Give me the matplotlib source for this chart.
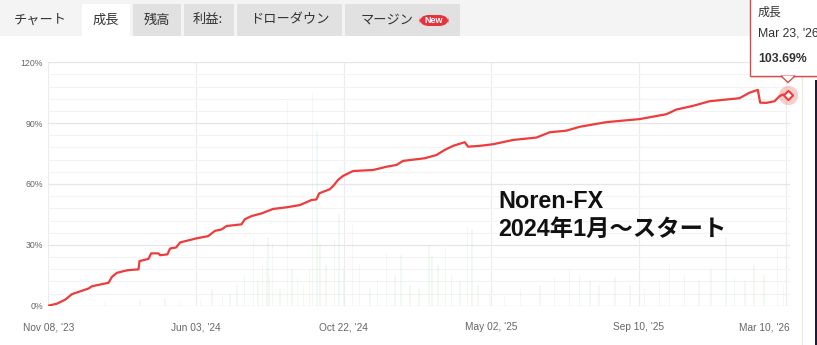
import matplotlib
matplotlib.use("Agg")
import matplotlib.pyplot as plt
import matplotlib.transforms as mtrans
from matplotlib.patches import Rectangle, FancyBboxPatch, Polygon
from matplotlib.ticker import MultipleLocator, FuncFormatter

plt.rcParams['font.family'] = ['Liberation Sans', 'Noto Sans CJK JP', 'DejaVu Sans']

# ---------------- data ----------------
tick_pos = [0, 100, 200, 300, 400, 500]
tick_labels = ["Nov 08, '23", "Jun 03, '24", "Oct 22, '24", "May 02, '25", "Sep 10, '25", "Mar 10, '26"]

growth_x = [0, 5.9, 11.5, 16.0, 20.5, 27.3, 29.6, 40.8, 43.1, 46.5, 53.6, 61.1, 61.8, 67.9, 69.7,
            74.6, 75.8, 80.7, 82.5, 86.6, 89.3, 93.8, 100.4, 108.3, 112.9, 117.4, 120.8, 130.9,
            133.1, 137.7, 144.5, 152.3, 161.4, 170.4, 178.3, 181.7, 183.5, 190.7, 193.0, 196.3,
            199.7, 206.5, 220.0, 229.1, 235.9, 240.4, 255.1, 263.0, 268.6, 274.2, 282.1, 284.4,
            292.3, 301.3, 314.8, 330.7, 339.7, 351.0, 360.0, 378.1, 400.6, 418.7, 425.5, 436.7,
            448.0, 468.3, 475.0, 480.7, 482.3, 486.4, 492.0, 495.4, 497.6, 501.0]
growth_y = [0, 1.0, 3.0, 5.7, 6.8, 8.5, 9.6, 11.3, 14.2, 16.2, 17.5, 17.9, 22.0, 23.1, 25.8,
            25.8, 24.9, 25.3, 28.2, 28.7, 31.2, 32.0, 33.2, 34.3, 36.9, 37.6, 39.3, 40.1,
            42.6, 44.2, 45.5, 47.7, 48.5, 49.6, 52.1, 52.4, 55.4, 57.4, 59.0, 62.0,
            64.0, 66.4, 66.9, 68.5, 69.4, 71.4, 72.7, 74.3, 76.8, 78.8, 80.6, 78.4,
            78.8, 79.6, 81.7, 82.9, 85.5, 86.3, 88.2, 90.5, 92.0, 94.4, 96.7, 98.5,
            100.8, 102.3, 105.0, 106.4, 100.1, 100.0, 100.8, 103.3, 104.1, 103.69]

bar_x = [38, 62, 79, 89, 103, 111, 118, 123, 128, 133, 139, 142, 145, 148, 149, 150, 152, 157,
         162, 165, 169, 173, 177, 179, 182, 184, 188, 194, 197, 200, 206, 211, 218, 223, 229,
         235, 239, 245, 251, 258, 260, 264, 269, 273, 279, 284, 287, 291, 299, 309, 320, 333,
         343, 353, 360, 367, 373, 384, 394, 404, 414, 421, 431, 441, 449, 459, 465, 472, 478,
         485, 494, 498]
bar_h = [2, 3, 4, 3, 3, 8, 5, 6, 10, 15, 35, 12, 20, 22, 34, 14, 31, 8,
         101, 18, 14, 10, 18, 105, 86, 30, 20, 33, 45, 18, 40, 20, 8, 12, 26,
         15, 25, 10, 8, 30, 25, 20, 29, 15, 12, 40, 38, 10, 6, 5, 8, 10,
         14, 18, 15, 12, 10, 14, 10, 8, 12, 20, 15, 12, 18, 34, 14, 12, 20,
         15, 28, 10]

tabs = ["チャート", "成長", "残高", "利益:", "ドローダウン", "マージン"]
tooltip_title = "成長"
tooltip_date = "Mar 23, '26"
tooltip_value = "103.69%"
note_line1 = "Noren-FX"
note_line2 = "2024年1月～スタート"

# ---------------- figure ----------------
W, H = 817, 345
fig = plt.figure(figsize=(W / 100, H / 100), dpi=100)
fig.patch.set_facecolor('white')


def P(x, y):
    return (x / W, 1 - y / H)


def frect(x0, y0, x1, y1, **kw):
    r = Rectangle(P(x0, y1), (x1 - x0) / W, (y1 - y0) / H, transform=fig.transFigure, **kw)
    fig.patches.append(r)
    return r


# tab strip
frect(0, 0, W, 36, facecolor='#f4f4f4', edgecolor='none', zorder=0)
tab_boxes = [(None, 40), ((82, 130), 106), ((133, 181), 157), ((184, 234), 208),
             ((237, 342), 290), ((345, 460), 387)]
for i, (box, cx) in enumerate(tab_boxes):
    if box is not None:
        fc = 'white' if i == 1 else '#e1e1e1'
        frect(box[0], 4, box[1], 36, facecolor=fc, edgecolor='none', zorder=1)
    fig.text(*P(cx, 20), tabs[i], ha='center', va='center', fontsize=9.5,
             color='#333333', family=['Noto Sans CJK JP', 'DejaVu Sans'], zorder=3)
badge = FancyBboxPatch(P(419, 26), 30 / W, 11 / H, boxstyle="round,pad=0,rounding_size=0.012",
                       transform=fig.transFigure, facecolor='#e5333d', edgecolor='none', zorder=2,
                       mutation_aspect=W / H)
fig.patches.append(badge)
fig.text(*P(434, 20.5), "New", ha='center', va='center', fontsize=6.5, color='white',
         fontweight='bold', zorder=3)

# side decorations
fig.add_artist(plt.Line2D([801.5 / W, 801.5 / W], [0, 1 - 36 / H], color='#e8e8e8', lw=0.8,
                          transform=fig.transFigure))
frect(815, 80, 817, 345, facecolor='#1c1c3a', edgecolor='none', zorder=1)

# ---------------- axes ----------------
ax_left, ax_right, ax_top, ax_bot = 48.3, 790, 62.3, 305.7
ax = fig.add_axes([ax_left / W, 1 - ax_bot / H, (ax_right - ax_left) / W, (ax_bot - ax_top) / H])
ax.set_xlim(0, 502.5)
ax.set_ylim(0, 120)
ax.set_facecolor('white')

ax.bar(bar_x, bar_h, width=1.0, color='#4caf50', alpha=0.07, zorder=1, linewidth=0)
ax.plot(growth_x, growth_y, color='#ee3b3b', lw=1.6, zorder=4, solid_joinstyle='round')

ax.yaxis.set_major_locator(MultipleLocator(30))
ax.yaxis.set_minor_locator(MultipleLocator(6))
ax.yaxis.set_major_formatter(FuncFormatter(lambda v, p: f"{int(v)}%"))
ax.set_xticks(tick_pos)
ax.set_xticklabels(tick_labels)
ax.set_axisbelow(True)
ax.grid(axis='y', which='major', color='#e6e6e6', lw=0.9)
ax.grid(axis='y', which='minor', color='#f3f3f3', lw=0.8)
ax.grid(axis='x', which='major', color='#ececec', lw=0.8)
ax.tick_params(axis='both', which='both', length=0)
ax.tick_params(axis='y', labelsize=6.3, labelcolor='#666666', pad=4)
ax.tick_params(axis='x', labelsize=7.3, labelcolor='#666666', pad=12)
xl = ax.get_xticklabels()
xl[-1].set_ha('right')
xl[-1].set_transform(xl[-1].get_transform() + mtrans.ScaledTranslation(3 / 100, 0, fig.dpi_scale_trans))
for s in ['top', 'left', 'bottom', 'right']:
    ax.spines[s].set_visible(False)
ax.axvline(502.3, color='#ececec', lw=0.8, zorder=0)

# hover marker
ax.scatter([growth_x[-1]], [growth_y[-1]], s=190, color='#ee3b3b', alpha=0.25, zorder=5,
           linewidths=0, clip_on=False)
ax.scatter([growth_x[-1]], [growth_y[-1]], s=22, marker='D', facecolor='white',
           edgecolor='#ee3b3b', linewidths=1.5, zorder=6, clip_on=False)

# annotation text
fig.text(*P(498, 202), note_line1, ha='left', va='center', fontsize=16.8, fontweight='bold',
         color='#111111', zorder=6)
fig.text(*P(498, 229), note_line2, ha='left', va='center', fontsize=16.8, fontweight='bold',
         color='#111111', family=['Liberation Sans', 'Noto Sans CJK JP'], zorder=6)

# tooltip
frect(751, -2, 822, 77.5, facecolor='#bbbbbb', edgecolor='none', alpha=0.35, zorder=7)
frect(750, -3, 820, 76, facecolor='white', edgecolor='#e04848', lw=1, zorder=8)
tri = Polygon([P(781, 76), P(795, 76), P(788, 82.5)], closed=True, transform=fig.transFigure,
              facecolor='white', edgecolor='#e04848', lw=1, zorder=9)
fig.patches.append(tri)
fig.patches.append(Polygon([P(781.8, 75.6), P(794.2, 75.6), P(788, 81)], closed=True,
                           transform=fig.transFigure, facecolor='white', edgecolor='none', zorder=10))
fig.text(*P(758, 12), tooltip_title, ha='left', va='center', fontsize=8.6, color='#333333',
         family=['Noto Sans CJK JP', 'DejaVu Sans'], zorder=11)
fig.text(*P(758, 34), tooltip_date, ha='left', va='center', fontsize=8.8, color='#333333', zorder=11)
fig.text(*P(758, 59), tooltip_value, ha='left', va='center', fontsize=8.8, color='#333333',
         fontweight='bold', zorder=11)

fig.savefig("out.png", dpi=100, facecolor=fig.get_facecolor())
